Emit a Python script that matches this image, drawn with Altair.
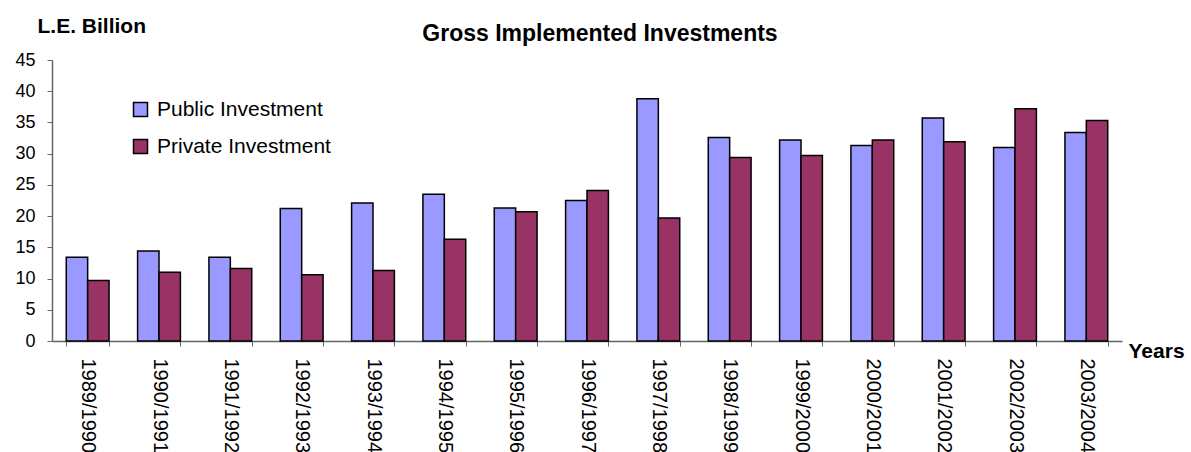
import altair as alt
import pandas as pd

years = ["1989/1990", "1990/1991", "1991/1992", "1992/1993", "1993/1994",
         "1994/1995", "1995/1996", "1996/1997", "1997/1998", "1998/1999",
         "1999/2000", "2000/2001", "2001/2002", "2002/2003", "2003/2004"]
public = [13.4, 14.4, 13.4, 21.2, 22.1, 23.5, 21.3, 22.5, 38.8, 32.6,
          32.2, 31.3, 35.7, 31.0, 33.4]
private = [9.7, 11.0, 11.6, 10.6, 11.3, 16.3, 20.7, 24.1, 19.7, 29.4,
           29.7, 32.2, 31.9, 37.2, 35.3]
series = ["Public Investment", "Private Investment"]
colors = ["#9999FF", "#993366"]
y_ticks = [0, 5, 10, 15, 20, 25, 30, 35, 40, 45]

rows = []
for i, yr in enumerate(years):
    rows.append({"Year": yr, "Series": series[0], "Value": public[i]})
    rows.append({"Year": yr, "Series": series[1], "Value": private[i]})
df = pd.DataFrame(rows)

FONT = "Liberation Sans"

chart = alt.Chart(df).mark_bar(stroke="black", strokeWidth=1.5).encode(
    x=alt.X("Year:N", sort=years,
            scale=alt.Scale(paddingInner=0.4, paddingOuter=0.2),
            axis=alt.Axis(title="Years", labelAngle=90, labelAlign="left",
                          labelBaseline="middle", labelFontSize=20,
                          labelFont=FONT, labelColor="black", labelPadding=12,
                          labelLimit=0,
                          tickBand="extent", tickSize=5, tickColor="#666",
                          domainColor="#666", domainWidth=1.5,
                          titleFont=FONT, titleFontSize=21, titleFontWeight="bold",
                          titleColor="black", titleAngle=0, titleAlign="left",
                          titleBaseline="alphabetic", titleX=1076, titleY=16)),
    xOffset=alt.XOffset("Series:N", sort=series, scale=alt.Scale(paddingInner=0)),
    y=alt.Y("Value:Q", scale=alt.Scale(domain=[0, 45], nice=False),
            axis=alt.Axis(title="L.E. Billion", values=y_ticks, grid=False,
                          labelFontSize=18, labelFont=FONT, labelColor="black",
                          labelPadding=12, tickSize=5, tickColor="#666",
                          domainColor="#666", domainWidth=1.5,
                          titleFont=FONT, titleFontSize=21, titleFontWeight="bold",
                          titleColor="black", titleAngle=0, titleAlign="left",
                          titleBaseline="alphabetic", titleX=-15, titleY=-28)),
    color=alt.Color("Series:N", sort=series,
                    scale=alt.Scale(domain=series, range=colors),
                    legend=alt.Legend(title=None, orient="none", legendX=78,
                                      legendY=39, symbolType="square",
                                      symbolSize=196, symbolStrokeColor="black",
                                      symbolStrokeWidth=1.5, symbolOpacity=1,
                                      labelFont=FONT, labelFontSize=21,
                                      labelColor="black", labelOffset=6,
                                      labelLimit=0,
                                      rowPadding=15, padding=0)),
).properties(
    width=1070, height=281, background="white",
    title=alt.TitleParams("Gross Implemented Investments", font=FONT, fontSize=23,
                          fontWeight="bold", color="black", anchor="middle",
                          frame="group", dx=13, offset=-54, baseline="bottom"),
    autosize=alt.AutoSizeParams(type="none"),
    padding={"left": 52, "top": 60, "right": 69, "bottom": 111},
).configure_view(stroke=None, strokeWidth=0)

chart.save("out.html", embed_options={"renderer": "svg", "actions": False})
